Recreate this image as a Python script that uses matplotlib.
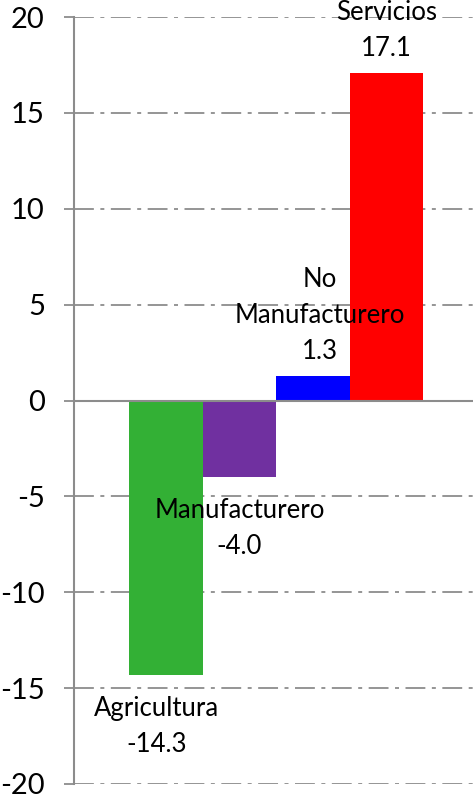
import matplotlib.pyplot as plt

plt.rcParams['font.family'] = ['Lato', 'DejaVu Sans']
plt.rcParams['axes.unicode_minus'] = False

#*---------- data ----------
sectores = ['Agricultura', 'Manufacturero', 'No\nManufacturero', 'Servicios']
valores  = [-14.3, -4.0, 1.3, 17.1]
colores  = ['#33B035', '#7030A0', '#0000FF', '#FF0000']
yticks   = [-20, -15, -10, -5, 0, 5, 10, 15, 20]

# label offsets (px) chosen to mimic the original placement
dx = [-9, 0, 7, 0]

fig = plt.figure(figsize=(4.73, 7.98), dpi=100)
ax = fig.add_axes([74/473, 14/798, 399/473, 767/798])

gris = '#8C8C8C'
for t in yticks:
    if t != 0:
        ax.axhline(t, color=gris, lw=1.3, ls=(0, (11, 3.6, 2.2, 3.6)), zorder=0)
ax.axhline(0, color=gris, lw=1.5, zorder=3)

x = range(len(valores))
ax.bar(x, valores, width=1.0, color=colores, zorder=2)

for i, v in enumerate(valores):
    txt = f'{sectores[i]}\n{v:.1f}'
    if v >= 0:
        ax.annotate(txt, (i, v), xytext=(dx[i] * 0.72, 8), textcoords='offset points',
                    ha='center', va='bottom', fontsize=18.5, linespacing=1.55)
    else:
        ax.annotate(txt, (i, v), xytext=(dx[i] * 0.72, -15), textcoords='offset points',
                    ha='center', va='top', fontsize=18.5, linespacing=1.55)

ax.set_ylim(-20, 20)
ax.set_xlim(-1.25, 4.18)
ax.set_yticks(yticks)
ax.set_xticks([])
ax.tick_params(axis='y', direction='out', length=7, width=1.3, color=gris,
               labelsize=21, pad=14)
for s in ['top', 'right', 'bottom']:
    ax.spines[s].set_visible(False)
ax.spines['left'].set_color(gris)
ax.spines['left'].set_linewidth(1.5)

fig.savefig('out.png', dpi=100)
